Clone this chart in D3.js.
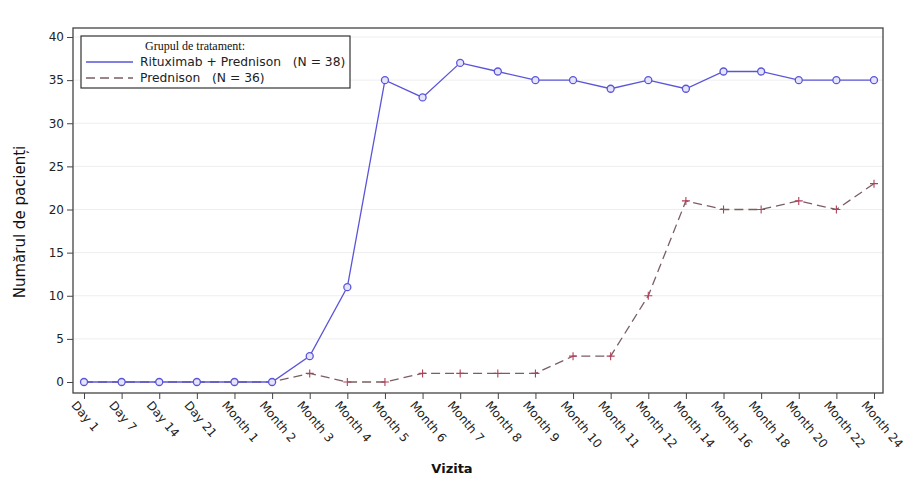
<!DOCTYPE html>
<html><head><meta charset="utf-8">
<script src="https://d3js.org/d3.v7.min.js"></script>
<style>body{margin:0;background:#fff}</style>
</head><body><svg id="c" width="922" height="490"></svg>
<script>
const visits = ["Day 1","Day 7","Day 14","Day 21","Month 1","Month 2","Month 3","Month 4","Month 5","Month 6","Month 7","Month 8","Month 9","Month 10","Month 11","Month 12","Month 14","Month 16","Month 18","Month 20","Month 22","Month 24"];
const rituxPred = [0,0,0,0,0,0,3,11,35,33,37,36,35,35,34,35,34,36,36,35,35,35];
const prednison = [0,0,0,0,0,0,1,0,0,1,1,1,1,3,3,10,21,20,20,21,20,23];
const yTicks = [0,5,10,15,20,25,30,35,40];

const svg = d3.select("#c");
const L=73,R=883,T=28,B=393;
const SANS = "DejaVu Sans, Verdana, sans-serif";
const x = d3.scalePoint().domain(visits).range([84,874]);
const y = d3.scaleLinear().domain([0,40]).range([382,37]);

// gridlines
svg.append("g").selectAll("line").data(yTicks.filter(d=>d>0)).join("line")
  .attr("x1",L).attr("x2",R).attr("y1",d=>y(d)).attr("y2",d=>y(d))
  .attr("stroke","#eeeeee").attr("stroke-width",1);

// frame
svg.append("rect").attr("x",L).attr("y",T).attr("width",R-L).attr("height",B-T)
  .attr("fill","none").attr("stroke","#444").attr("stroke-width",1.3);

// y axis
const ya = svg.append("g").attr("transform",`translate(${L},0)`)
  .call(d3.axisLeft(y).tickValues(yTicks).tickSize(6).tickPadding(3));
ya.select(".domain").remove();
ya.selectAll("line").attr("stroke","#444");
ya.selectAll("text").attr("font-family",SANS).attr("font-size",12).attr("fill","#222");

// x axis
const xa = svg.append("g").attr("transform",`translate(0,${B})`)
  .call(d3.axisBottom(x).tickSize(6).tickPadding(4));
xa.select(".domain").remove();
xa.selectAll("line").attr("stroke","#444");
xa.selectAll("text").attr("font-family",SANS).attr("font-size",12).attr("fill","#222")
  .attr("text-anchor","start").attr("dy",null)
  .attr("transform","translate(-6,6) rotate(50)");

// lines
const lineB = d3.line().x((d,i)=>x(visits[i])).y(d=>y(d));
svg.append("path").datum(prednison).attr("d",lineB).attr("fill","none")
  .attr("stroke","#7a5e62").attr("stroke-width",1.3).attr("stroke-dasharray","9,5");
svg.append("path").datum(rituxPred).attr("d",lineB).attr("fill","none")
  .attr("stroke","#5a55d8").attr("stroke-width",1.3);

// markers
svg.append("g").selectAll("path").data(prednison).join("path")
  .attr("d",(d,i)=>{const cx=x(visits[i]),cy=y(d);return `M${cx-4},${cy}H${cx+4}M${cx},${cy-4}V${cy+4}`;})
  .attr("stroke","#b0405a").attr("stroke-width",1.1);
svg.append("g").selectAll("circle").data(rituxPred).join("circle")
  .attr("cx",(d,i)=>x(visits[i])).attr("cy",d=>y(d)).attr("r",3.5)
  .attr("fill","#e6e4fa").attr("stroke","#5a55d8").attr("stroke-width",1.3);

// legend
const lg = svg.append("g");
lg.append("rect").attr("x",81).attr("y",36).attr("width",269).attr("height",52)
  .attr("fill","#fff").attr("stroke","#333").attr("stroke-width",1.2);
lg.append("text").attr("x",145).attr("y",50).text("Grupul de tratament:")
  .attr("font-family","Liberation Serif, Times New Roman, serif").attr("font-size",12).attr("fill","#111");
lg.append("line").attr("x1",86).attr("x2",133).attr("y1",62).attr("y2",62).attr("stroke","#5a55d8").attr("stroke-width",1.3);
lg.append("line").attr("x1",86).attr("x2",133).attr("y1",78).attr("y2",78).attr("stroke","#7a5e62").attr("stroke-width",1.3).attr("stroke-dasharray","9,5");
lg.append("text").attr("x",140).attr("y",66).attr("xml:space","preserve").text("Rituximab + Prednison   (N = 38)")
  .attr("font-family",SANS).attr("font-size",12.3).attr("fill","#222");
lg.append("text").attr("x",140).attr("y",82).attr("xml:space","preserve").text("Prednison   (N = 36)")
  .attr("font-family",SANS).attr("font-size",12.3).attr("fill","#222");

// axis titles
svg.append("text").attr("transform","translate(25,222) rotate(-90)").attr("text-anchor","middle")
  .text("Numărul de pacienți").attr("font-family",SANS).attr("font-size",15).attr("fill","#111");
svg.append("text").attr("x",452).attr("y",473).attr("text-anchor","middle").text("Vizita")
  .attr("font-family",SANS).attr("font-weight","bold").attr("font-size",13).attr("fill","#111");
</script></body></html>
